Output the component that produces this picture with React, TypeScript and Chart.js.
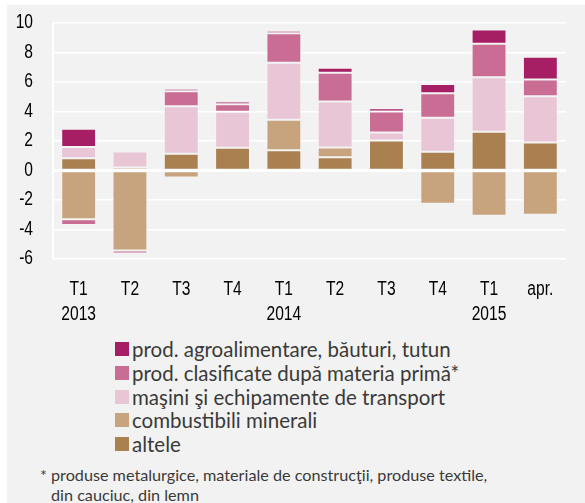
import React, { useEffect, useRef } from "react";
import { Chart, registerables } from "chart.js";

Chart.register(...registerables);

const categories: (string | string[])[] = [
  ["T1", "2013"], "T2", "T3", "T4",
  ["T1", "2014"], "T2", "T3", "T4",
  ["T1", "2015"], "apr.",
];

const altele = [0.83, 0.2, 1.13, 1.54, 1.38, 0.9, 2.03, 1.27, 2.62, 1.9];
const combustibili = [-3.3, -5.42, -0.47, 0, 2.06, 0.66, -0.15, -2.26, -3.07, -3.0];
const masini = [0.77, 1.09, 3.23, 2.44, 3.86, 3.12, 0.55, 2.31, 3.71, 3.14];
const clasificate = [-0.4, -0.2, 1.02, 0.52, 2.0, 1.94, 1.42, 1.66, 2.26, 1.13];
const agro = [1.23, 0, 0.16, 0.18, 0.18, 0.34, 0.22, 0.63, 0.97, 1.54];

const seriesNames = [
  "prod. agroalimentare, băuturi, tutun",
  "prod. clasificate după materia primă*",
  "maşini şi echipamente de transport",
  "combustibili minerali",
  "altele",
];
const seriesColors = ["#a61e64", "#c96d94", "#e8c6d6", "#c8a47e", "#ab8050"];

const footnoteLines = [
  "produse metalurgice, materiale de construcţii, produse textile,",
  "din cauciuc, din lemn",
];

const textFont = "Lato, 'Noto Sans', sans-serif";
const tickFont = "'Liberation Sans', Arial, sans-serif";

// Narrow the axis text horizontally (the original uses a condensed face).
const condensedTextPlugin = {
  id: "condensedText",
  beforeDraw(chart: any) {
    const ctx = chart.ctx;
    const orig = ctx.fillText;
    ctx.__origFillText = orig;
    ctx.fillText = function (text: string, x: number, y: number) {
      this.save();
      this.translate(x, y);
      this.scale(0.8, 1);
      orig.call(this, text, 0, 0);
      this.restore();
    };
  },
  afterDraw(chart: any) {
    const ctx = chart.ctx;
    if (ctx.__origFillText) {
      ctx.fillText = ctx.__origFillText;
      delete ctx.__origFillText;
    }
  },
};

const zeroLinePlugin = {
  id: "zeroLine",
  afterDatasetsDraw(chart: any) {
    const y = chart.scales.y.getPixelForValue(0);
    const { left, right } = chart.chartArea;
    const ctx = chart.ctx;
    ctx.save();
    ctx.strokeStyle = "#ffffff";
    ctx.lineWidth = 3;
    ctx.beginPath();
    ctx.moveTo(left, y);
    ctx.lineTo(right, y);
    ctx.stroke();
    ctx.restore();
  },
};

export default function App() {
  const canvasRef = useRef<HTMLCanvasElement | null>(null);

  useEffect(() => {
    document.body.style.margin = "0";
    const canvas = canvasRef.current;
    if (!canvas) return;
    const seriesData = [agro, clasificate, masini, combustibili, altele];
    const order = [4, 3, 2, 1, 0];
    const chart = new Chart(canvas, {
      type: "bar",
      data: {
        labels: categories as any,
        datasets: order.map((i) => ({
          label: seriesNames[i],
          data: seriesData[i],
          backgroundColor: seriesColors[i],
          borderColor: "rgba(255,255,255,0.25)",
          borderWidth: 1,
          borderSkipped: false,
          barPercentage: 0.68,
          categoryPercentage: 1,
        })),
      },
      options: {
        animation: false,
        responsive: false,
        maintainAspectRatio: false,
        layout: { padding: { top: 18, right: 19, left: 0, bottom: 0 } },
        plugins: {
          legend: { display: false },
          tooltip: { enabled: false },
        },
        scales: {
          x: {
            stacked: true,
            grid: { display: false, drawTicks: false },
            border: { display: false },
            ticks: {
              color: "#000000",
              font: { family: tickFont, size: 19.5, lineHeight: 25 / 19.5 },
              padding: 18,
              maxRotation: 0,
              autoSkip: false,
            },
            afterFit(scale: any) {
              scale.height = 76;
            },
          },
          y: {
            stacked: true,
            min: -6,
            max: 10,
            grid: {
              color: "#ffffff",
              lineWidth: 1.5,
              drawTicks: false,
            },
            border: { display: true, color: "#ffffff", width: 2 },
            ticks: {
              stepSize: 2,
              color: "#000000",
              font: { family: tickFont, size: 19.5 },
              padding: 20,
            },
            afterFit(scale: any) {
              scale.width = 46;
              scale.paddingTop = 10;
              scale.paddingBottom = 10;
            },
          },
        },
      },
      plugins: [zeroLinePlugin, condensedTextPlugin],
    });
    return () => chart.destroy();
  }, []);

  return (
    <div
      style={{
        position: "absolute",
        left: 7,
        top: 5,
        width: 578,
        height: 498,
        background: "#f2f2f2",
        overflow: "hidden",
      }}
    >
      <canvas
        ref={canvasRef}
        width={578}
        height={330}
        style={{ position: "absolute", left: 0, top: 0, width: 578, height: 330 }}
      />
      {seriesNames.map((name, i) => (
        <div
          key={name}
          style={{
            position: "absolute",
            left: 108,
            top: 344 + i * 23.75 - 12,
            height: 24,
            display: "flex",
            alignItems: "center",
            fontFamily: textFont,
            fontSize: 20.5,
            color: "#3a3a3a",
            whiteSpace: "nowrap",
          }}
        >
          <span
            style={{
              display: "inline-block",
              width: 14,
              height: 14,
              background: seriesColors[i],
              marginRight: 3,
            }}
          />
          <span>{name}</span>
        </div>
      ))}
      <div
        style={{
          position: "absolute",
          left: 33,
          top: 460,
          fontFamily: textFont,
          fontSize: 16.2,
          lineHeight: "20px",
          color: "#3a3a3a",
          whiteSpace: "nowrap",
        }}
      >
        <div>
          <span style={{ display: "inline-block", width: 11 }}>*</span>
          {footnoteLines[0]}
        </div>
        <div style={{ paddingLeft: 11 }}>{footnoteLines[1]}</div>
      </div>
    </div>
  );
}
